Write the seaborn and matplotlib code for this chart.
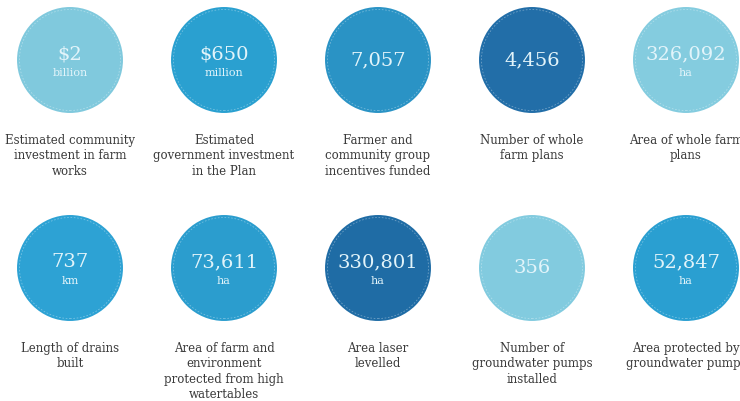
import pandas as pd
import matplotlib
matplotlib.use('Agg')
import matplotlib.pyplot as plt
import seaborn as sns

# Figures from the infographic (two rows of five circles)
values = ['$2', '$650', '7,057', '4,456', '326,092',
          '737', '73,611', '330,801', '356', '52,847']
units = ['billion', 'million', '', '', 'ha',
         'km', 'ha', 'ha', '', 'ha']
labels = ['Estimated community\ninvestment in farm\nworks',
          'Estimated\ngovernment investment\nin the Plan',
          'Farmer and\ncommunity group\nincentives funded',
          'Number of whole\nfarm plans',
          'Area of whole farm\nplans',
          'Length of drains\nbuilt',
          'Area of farm and\nenvironment\nprotected from high\nwatertables',
          'Area laser\nlevelled',
          'Number of\ngroundwater pumps\ninstalled',
          'Area protected by\ngroundwater pumps']
col = [0, 1, 2, 3, 4, 0, 1, 2, 3, 4]
row = [0, 0, 0, 0, 0, 1, 1, 1, 1, 1]

colors = ['#80c9dd', '#2aa0d0', '#2a93c5', '#226ea8', '#84ccdf',
          '#2da2d4', '#2b9dce', '#1f6ca5', '#82cbdf', '#2a9fd1']

df = pd.DataFrame({'col': col, 'row': row, 'value': values,
                   'unit': units, 'label': labels, 'key': range(len(values))})

sns.set_style('white')
fig = plt.figure(figsize=(7.4, 4.01), dpi=100)
ax = fig.add_axes([0, 0, 1, 1])

sns.scatterplot(data=df, x='col', y='row', hue='key',
                palette=dict(zip(df['key'], colors)), s=5820,
                linewidth=0, legend=False, ax=ax, zorder=2)
# faint dashed ring near the edge of each circle
sns.scatterplot(data=df, x='col', y='row', s=5300, facecolors='none',
                edgecolor='white', linewidth=0.6, linestyle=(0, (2, 2)),
                alpha=0.35, legend=False, ax=ax, zorder=3)

num_c = '#e2f4fa'
for _, r in df.iterrows():
    if r['unit']:
        ax.annotate(r['value'], (r['col'], r['row']), xytext=(0, 4),
                    textcoords='offset points', ha='center', va='center',
                    fontsize=14, color=num_c, family='DejaVu Serif', zorder=4)
        ax.annotate(r['unit'], (r['col'], r['row']), xytext=(0, -9),
                    textcoords='offset points', ha='center', va='center',
                    fontsize=8, color=num_c, family='DejaVu Serif', zorder=4)
    else:
        ax.annotate(r['value'], (r['col'], r['row']), xytext=(0, 0),
                    textcoords='offset points', ha='center', va='center',
                    fontsize=14, color=num_c, family='DejaVu Serif', zorder=4)
    ax.annotate(r['label'], (r['col'], r['row']), xytext=(0, -53),
                textcoords='offset points', ha='center', va='top',
                fontsize=8.5, color='#3a3a3a', family='DejaVu Serif',
                linespacing=1.25, zorder=4)

ax.set_xlim(-70 / 154, (740 - 70) / 154)
ax.set_ylim((401 - 60) / 208, -60 / 208)
ax.set_axis_off()

fig.savefig('out.png', dpi=100)
